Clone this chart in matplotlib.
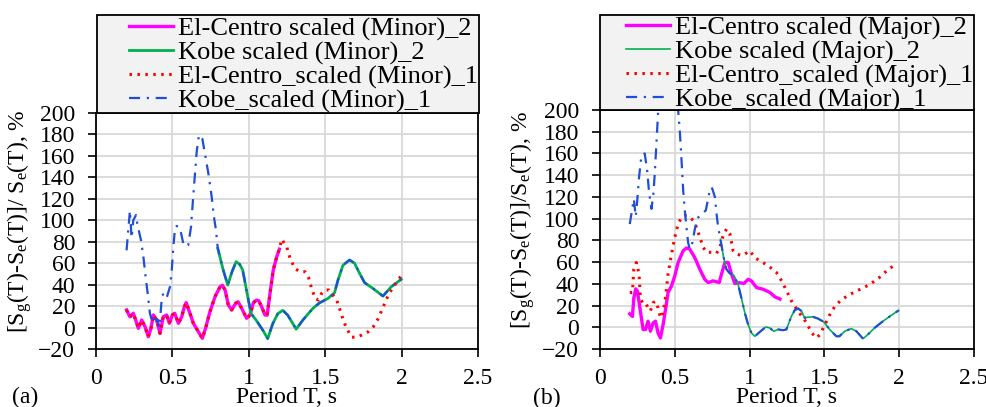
import numpy as np
import matplotlib
matplotlib.use("Agg")
import matplotlib.pyplot as plt
from matplotlib.patches import Rectangle

plt.rcParams['font.family'] = ['Liberation Serif', 'DejaVu Serif']
plt.rcParams['mathtext.fontset'] = 'custom'
plt.rcParams['mathtext.rm'] = 'Liberation Serif'
plt.rcParams['mathtext.it'] = 'Liberation Serif:italic'

# ---------------- (a) Minor ----------------
a_elc2_T = [0.2,0.222,0.244,0.26,0.277,0.299,0.321,0.342,0.36,0.375,0.397,0.419,0.44,0.462,0.48,0.5,0.515,0.539,0.561,0.578,0.59,0.615,0.637,0.67,0.696,0.717,0.746,0.779,0.812,0.827,0.845,0.866,0.888,0.914,0.93,0.953,0.986,1.008,1.03,1.05,1.065,1.084,1.106,1.12,1.139,1.16,1.183,1.2]
a_elc2_V = [16.4,10,13.3,7,-0.7,7,0.8,-8.5,-0.7,11.7,7,-5.4,10,11.7,4,11.7,13.3,4,10,19.4,23.2,13.3,4,-3.9,-10,-0.7,14.8,28.8,38,39.4,35,21,16.4,22.6,24,18,8.6,11.7,23.2,25.5,25,19.4,11.7,11.5,31.9,53.6,66,73]

a_kobe2_T = [0.797,0.83,0.862,0.89,0.917,0.94,0.96,0.993,1.015,1.048,1.092,1.124,1.157,1.19,1.223,1.255,1.31,1.354,1.419,1.463,1.517,1.561,1.583,1.616,1.659,1.692,1.725,1.758,1.812,1.878,1.932,1.998]
a_kobe2_V = [73.8,55,39.6,52,61.4,59,53.6,28.7,13,6.9,-2.5,-10.3,3.7,13,16,11.5,-1.5,7,17.8,23,27,32.4,44,58,63,60,50.5,41.8,36.5,29.3,38,45]

a_elc1_tail_T = [1.215,1.248,1.27,1.302,1.335,1.368,1.39,1.411,1.433,1.455,1.477,1.5,1.525,1.55,1.575,1.597,1.618,1.64,1.673,1.706,1.739,1.782,1.815,1.848,1.88,1.913,1.946,1.978,2.0]
a_elc1_tail_V = [82.3,75.4,64.5,55,52,52,47,36.6,27.3,25.7,31.9,35,35,30.5,25.7,16.4,7,-0.7,-9,-9,-7,-3.9,0.8,8.6,19.4,30.3,38,44.3,49]

a_kobe1_head_T = [0.2,0.222,0.233,0.244,0.262,0.27,0.294,0.31,0.325,0.338,0.353,0.364,0.375,0.39,0.401,0.415,0.432,0.45,0.463,0.484,0.495,0.506,0.517,0.528,0.55,0.571,0.58,0.604,0.622,0.633,0.648,0.659,0.674,0.696,0.713,0.735,0.757,0.772,0.785]
a_kobe1_head_V = [72,109,83.5,100,105,97,81.6,66,47,32,13,8,12,3,8,0,30,32,28,38,52,75,92.5,94.7,92.5,78.5,76,77,94,115.8,143.8,164,179.5,176,162,144,122,103,91]

# ---------------- (b) Major ----------------
b_elc2_T = [0.199,0.217,0.226,0.239,0.25,0.27,0.288,0.305,0.321,0.337,0.355,0.371,0.388,0.404,0.422,0.44,0.455,0.478,0.5,0.522,0.556,0.578,0.6,0.634,0.667,0.7,0.723,0.756,0.797,0.812,0.835,0.857,0.879,0.901,0.934,0.962,0.991,1.012,1.047,1.091,1.136,1.169,1.203]
b_elc2_V = [12.4,10,27,35.3,33.4,14.8,-2,-2,5.6,-3.6,4,5.6,-5.2,-9.8,2.5,18,32,38,47.3,59.6,70.4,73,72,64,53.5,44.2,41.2,42.7,41.2,48.9,59.6,59.6,49,40.3,41,40.3,44.2,42.7,36.5,35,32,28,26]

b_kobe2_T = [0.805,0.827,0.845,0.867,0.894,0.923,0.945,0.968,0.99,1.012,1.035,1.068,1.108,1.135,1.161,1.19,1.224,1.246,1.279,1.302,1.324,1.346,1.368,1.39,1.424,1.457,1.496,1.535,1.58,1.6,1.636,1.68,1.714,1.758,1.79,1.835,1.892,1.947,1.996]
b_kobe2_V = [81,64,53.4,49.7,48,39.5,27,13.3,2.5,-5.2,-8.3,-4.3,0.3,-0.6,-3.7,-2,-2.7,-2,10,15.8,17.3,15,8.7,9.3,9.6,8,5,-2,-8.3,-8.3,-3.7,-1.2,-3.7,-10.5,-6.8,-0.6,5.6,11,15.5]

b_elc1_T = [0.199,0.217,0.226,0.243,0.261,0.27,0.288,0.31,0.321,0.337,0.355,0.371,0.388,0.404,0.422,0.44,0.455,0.478,0.5,0.522,0.545,0.567,0.596,0.623,0.645,0.667,0.69,0.712,0.746,0.779,0.801,0.823,0.846,0.868,0.89,0.913,0.947,0.968,1.002,1.035,1.069,1.125,1.18,1.214,1.248,1.281,1.315,1.348,1.381,1.415,1.448,1.47,1.504,1.537,1.571,1.616,1.671,1.738,1.805,1.872,1.928,1.984]
b_elc1_V = [31.9,32,53.5,59.6,49,27.3,21,21,18,15,22.6,24,18,8.7,13.3,30,49,67.4,82.8,95,101.3,102.8,102,98.3,92,83,73.5,69,69,68,73.5,84.3,90.5,86,70.4,67.4,66,67.4,70.4,64,61.2,56.6,50.4,42.7,33.4,24,16.5,10.3,4.1,-5.2,-9.8,-6.7,2.5,11.8,19.5,25.6,30.3,34.9,39.5,46.3,53.5,58.2]

b_kobe1_head_T = [0.199,0.217,0.226,0.239,0.248,0.261,0.277,0.299,0.315,0.328,0.344,0.357,0.366,0.377,0.388,0.47,0.533,0.545,0.556,0.567,0.578,0.589,0.6,0.618,0.634,0.656,0.679,0.707,0.73,0.745,0.752,0.768,0.779,0.79]
b_kobe1_head_V = [95,110.5,118,102,115,138,158,160,144.5,124.4,109,123,141.4,169,197,290,181.5,153.7,126,107.5,92,78,72,78,90.5,101,104.4,107.5,123,129,127,119.8,104.4,92]

x_ticks = [0, 0.5, 1, 1.5, 2, 2.5]
x_ticklabels = ['0', '0.5', '1', '1.5', '2', '2.5']
y_ticks = list(range(-20, 201, 20))

labels_a = ['El-Centro scaled (Minor)_2', 'Kobe scaled (Minor)_2',
            'El-Centro_scaled (Minor)_1', 'Kobe_scaled (Minor)_1']
labels_b = ['El-Centro scaled (Major)_2', 'Kobe scaled (Major)_2',
            'El-Centro_scaled (Major)_1', 'Kobe_scaled (Major)_1']

MAG = '#ff00ff'
GRN = '#00b050'
RED = '#ff0000'
BLU = '#1f4fd8'

W, H = 987, 407
fig = plt.figure(figsize=(W/100, H/100), dpi=100)

def fx(px): return px / W
def fy(py): return 1 - py / H

axA = fig.add_axes([fx(96), fy(349), fx(478) - fx(96), fy(113) - fy(349)])
axB = fig.add_axes([fx(600), fy(349), fx(974) - fx(600), fy(110) - fy(349)])

def style(ax, ylabel, ylab_x):
    ax.set_xlim(0, 2.5)
    ax.set_ylim(-20, 200)
    ax.set_xticks(x_ticks)
    ax.set_xticklabels(x_ticklabels)
    ax.set_yticks(y_ticks)
    ax.grid(True, color='#d9d9d9', linewidth=1.3)
    ax.set_axisbelow(True)
    for s in ax.spines.values():
        s.set_color('black')
        s.set_linewidth(1.3)
    ax.tick_params(axis='both', direction='out', length=6, width=1.2,
                   labelsize=17, colors='black')
    ax.tick_params(axis='x', pad=8)
    ax.tick_params(axis='y', pad=9)
    ax.set_xlabel('Period T, s', fontsize=17, labelpad=-1.5)
    ax.set_ylabel(ylabel, fontsize=17)
    ax.yaxis.set_label_coords(ylab_x, 0.54)

# (a)
h1, = axA.plot(a_elc2_T, a_elc2_V, color=MAG, lw=2.4, zorder=2)
h2, = axA.plot(a_kobe2_T, a_kobe2_V, color=GRN, lw=2.0, zorder=3)
h3, = axA.plot(a_elc2_T + a_elc1_tail_T, a_elc2_V + a_elc1_tail_V, color=RED,
               lw=2.2, linestyle=(0, (0.8, 1.8)), zorder=4)
h4, = axA.plot(a_kobe1_head_T + a_kobe2_T, a_kobe1_head_V + a_kobe2_V, color=BLU,
               lw=1.6, linestyle=(0, (5, 3, 1, 3)), zorder=5)
style(axA, r'[S$_{\mathrm{g}}$(T)-S$_{\mathrm{e}}$(T)]/ S$_{\mathrm{e}}$(T), %', -0.162)

# (b)
g1, = axB.plot(b_elc2_T, b_elc2_V, color=MAG, lw=2.4, zorder=2)
g2, = axB.plot(b_kobe2_T, b_kobe2_V, color=GRN, lw=1.2, zorder=3)
g3, = axB.plot(b_elc1_T, b_elc1_V, color=RED, lw=2.2, linestyle=(0, (0.8, 1.8)), zorder=4)
g4, = axB.plot(b_kobe1_head_T + b_kobe2_T, b_kobe1_head_V + b_kobe2_V, color=BLU,
               lw=1.6, linestyle=(0, (5, 3, 1, 3)), zorder=5)
style(axB, r'[S$_{\mathrm{g}}$(T)-S$_{\mathrm{e}}$(T)]/S$_{\mathrm{e}}$(T), %', -0.168)

# legend boxes
for (x0, x1, y0, y1) in [(97, 479, 15, 113), (600, 974, 15, 110)]:
    fig.patches.append(Rectangle((fx(x0), fy(y1)), fx(x1) - fx(x0), fy(y0) - fy(y1),
                                 transform=fig.transFigure, facecolor='#f2f2f2',
                                 edgecolor='black', linewidth=1.3, zorder=0))

leg_kw = dict(loc='upper left', frameon=False, fontsize=19,
              handlelength=1.65, handletextpad=0.2, labelspacing=0.0,
              borderpad=0, borderaxespad=0)
legA = fig.legend([h1, h2, h3, h4], labels_a, bbox_to_anchor=(fx(129), fy(17)), **leg_kw)
legB = fig.legend([g1, g2, g3, g4], labels_b, bbox_to_anchor=(fx(626), fy(16)), **leg_kw)

fig.text(fx(12), fy(397), '(a)', fontsize=17, va='center', ha='left')
fig.text(fx(533), fy(398), '(b)', fontsize=17, va='center', ha='left')

fig.savefig('out.png', dpi=100)
